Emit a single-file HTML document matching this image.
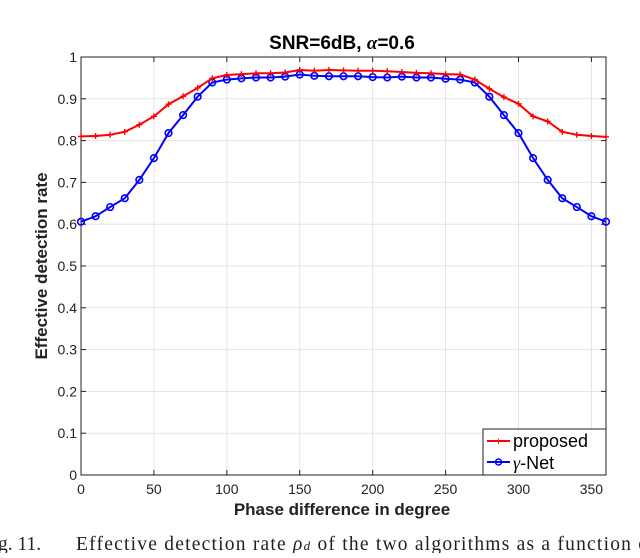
<!DOCTYPE html>
<html><head><meta charset="utf-8"><style>
body{margin:0;background:#fff;width:640px;height:553px;overflow:hidden}
</style></head><body>
<svg id="chart" width="640" height="553" xmlns="http://www.w3.org/2000/svg" font-family="Liberation Sans, sans-serif">
<text x="342" y="49" text-anchor="middle" font-size="19" font-weight="bold">SNR=6dB, <tspan style="font-family:'Liberation Serif',serif;font-style:italic">α</tspan>=0.6</text>
<g id="grid"></g>
<g id="axes"></g>
<g id="series"></g>
<text x="342" y="515" text-anchor="middle" font-size="17" font-weight="bold" fill="#222">Phase difference in degree</text>
<text transform="translate(47,266) rotate(-90)" text-anchor="middle" font-size="17" font-weight="bold" fill="#222">Effective detection rate</text>
<g>
<rect x="483" y="429" width="123" height="46" fill="#fff" stroke="#222" stroke-width="1"/>
<line x1="487" y1="441" x2="510" y2="441" stroke="#f00" stroke-width="2"/>
<text x="498.5" y="445" text-anchor="middle" fill="#f00" font-size="11">+</text>
<text x="513" y="447" font-size="18">proposed</text>
<line x1="487" y1="462" x2="510" y2="462" stroke="#00f" stroke-width="2"/>
<circle cx="498.5" cy="462" r="3" fill="none" stroke="#00f" stroke-width="1.5"/>
<text x="513" y="469" font-size="18"><tspan style="font-family:'Liberation Serif',serif;font-style:italic">γ</tspan>-Net</text>
</g>
<text x="-2" y="550" style="font-family:'Liberation Serif',serif" font-size="19.5" fill="#222">g. 11.</text>
<text x="76" y="550" textLength="572" lengthAdjust="spacing" style="font-family:'Liberation Serif',serif" font-size="19.5" fill="#222">Effective detection rate <tspan font-style="italic">ρ<tspan font-size="13">d</tspan></tspan> of the two algorithms as a function o</text>
</svg>
<script>
const xVals=[0,10,20,30,40,50,60,70,80,90,100,110,120,130,140,150,160,170,180,190,200,210,220,230,240,250,260,270,280,290,300,310,320,330,340,350,360];
const proposed=[0.81,0.811,0.814,0.821,0.838,0.858,0.887,0.906,0.926,0.949,0.957,0.959,0.961,0.961,0.963,0.969,0.967,0.969,0.968,0.967,0.967,0.966,0.964,0.962,0.961,0.959,0.958,0.946,0.924,0.904,0.888,0.858,0.846,0.821,0.814,0.811,0.809];
const gammaNet=[0.606,0.619,0.641,0.662,0.706,0.758,0.818,0.861,0.905,0.939,0.946,0.949,0.951,0.951,0.953,0.958,0.955,0.954,0.954,0.954,0.952,0.951,0.953,0.951,0.951,0.948,0.946,0.939,0.905,0.861,0.818,0.758,0.706,0.662,0.641,0.619,0.606];
const xTicks=[0,50,100,150,200,250,300,350];
const yTicks=[0,0.1,0.2,0.3,0.4,0.5,0.6,0.7,0.8,0.9,1];
const yTickLabels=["0","0.1","0.2","0.3","0.4","0.5","0.6","0.7","0.8","0.9","1"];
const L=81,R=606,T=57,B=475;
const sx=v=>L+v/360*(R-L), sy=v=>B-v*(B-T);
const NS="http://www.w3.org/2000/svg";
function mk(t,a,p){const e=document.createElementNS(NS,t);for(const k in a)e.setAttribute(k,a[k]);p.appendChild(e);return e;}
const grid=document.getElementById('grid'),axes=document.getElementById('axes'),ser=document.getElementById('series');
xTicks.forEach(v=>{
 const g=mk('line',{x1:sx(v),x2:sx(v),y1:T,y2:B,stroke:'#e3e3e3'},grid);
 
 
 mk('line',{x1:sx(v),x2:sx(v),y1:B,y2:B-5,stroke:'#222'},axes);
 mk('line',{x1:sx(v),x2:sx(v),y1:T,y2:T+5,stroke:'#222'},axes);
 const t=mk('text',{x:sx(v),y:B+19,'text-anchor':'middle','font-size':14,fill:'#222'},axes);t.textContent=v;
 
 
});
yTicks.forEach((v,i)=>{
 const g=mk('line',{x1:L,x2:R,y1:sy(v),y2:sy(v),stroke:'#e3e3e3'},grid);
 
 
 mk('line',{x1:L,x2:L+5,y1:sy(v),y2:sy(v),stroke:'#222'},axes);
 mk('line',{x1:R,x2:R-5,y1:sy(v),y2:sy(v),stroke:'#222'},axes);
 const t=mk('text',{x:L-4,y:sy(v)+5,'text-anchor':'end','font-size':14,fill:'#222'},axes);t.textContent=yTickLabels[i];
 
 
});
const fr=mk('rect',{x:L,y:T,width:R-L,height:B-T,fill:'none',stroke:'#222'},axes);


function line(data,color,name){
 const p=mk('polyline',{points:data.map((v,i)=>sx(xVals[i])+','+sy(v)).join(' '),fill:'none',stroke:color,'stroke-width':2},ser);
 
 
}
line(gammaNet,'#00f','gamma-net');
gammaNet.forEach((v,i)=>{
 const c=mk('circle',{cx:sx(xVals[i]),cy:sy(v),r:3.3,fill:'none',stroke:'#00f','stroke-width':1.6},ser);
 
 
});
line(proposed,'#f00','proposed');
proposed.forEach((v,i)=>{
 const x=sx(xVals[i]),y=sy(v);
 const m=mk('path',{d:`M${x-3},${y}H${x+3}M${x},${y-3}V${y+3}`,stroke:'#f00','stroke-width':1.4},ser);
 
 
});
</script>
</body></html>
